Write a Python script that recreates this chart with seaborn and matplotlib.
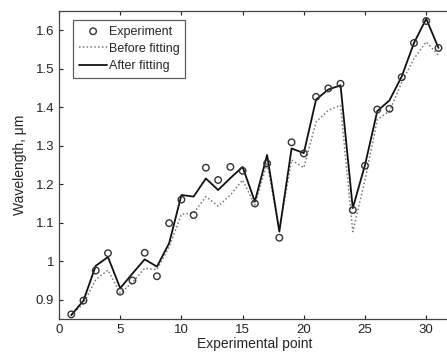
import matplotlib
matplotlib.use("Agg")
import matplotlib.pyplot as plt
import numpy as np
import pandas as pd
import seaborn as sns

points = list(range(1, 32))
experiment = [0.862, 0.898, 0.976, 1.021, 0.921, 0.950, 1.022, 0.961, 1.099, 1.160,
              1.120, 1.243, 1.211, 1.245, 1.235, 1.150, 1.254, 1.061, 1.309, 1.280,
              1.427, 1.449, 1.461, 1.133, 1.248, 1.394, 1.396, 1.478, 1.567, 1.624,
              1.554]
before_fit = [0.860, 0.890, 0.952, 0.977, 0.917, 0.945, 0.982, 0.978, 1.038, 1.122,
              1.125, 1.168, 1.143, 1.172, 1.211, 1.146, 1.256, 1.082, 1.263, 1.243,
              1.362, 1.392, 1.405, 1.077, 1.211, 1.368, 1.390, 1.465, 1.526, 1.570,
              1.535]
after_fit = [0.860, 0.898, 0.988, 1.011, 0.930, 0.968, 1.005, 0.986, 1.047, 1.172,
             1.168, 1.215, 1.185, 1.216, 1.245, 1.155, 1.276, 1.077, 1.293, 1.281,
             1.420, 1.446, 1.457, 1.138, 1.250, 1.390, 1.418, 1.480, 1.567, 1.630,
             1.554]

df = pd.DataFrame({"point": points, "exp": experiment,
                   "before": before_fit, "after": after_fit})

sns.set_style("ticks")
plt.rcParams['font.family'] = ['Liberation Sans', 'DejaVu Sans']

fig = plt.figure(figsize=(4.47, 3.52), dpi=100)
ax = fig.add_axes([59 / 447, 33 / 352, (450.7 - 59) / 447, (319 - 11) / 352])

sns.scatterplot(data=df, x="point", y="exp", ax=ax, marker="o", s=22,
                facecolor="none", edgecolor="#333333", linewidth=1.0,
                label="Experiment", zorder=3)
sns.lineplot(data=df, x="point", y="before", ax=ax, color="#777777",
             linestyle=(0, (1, 1.5)), linewidth=1.1, label="Before fitting")
sns.lineplot(data=df, x="point", y="after", ax=ax, color="#111111",
             linewidth=1.3, label="After fitting")

ax.set_xlim(0, 32)
ax.set_ylim(0.85, 1.65)
ax.set_xticks([0, 5, 10, 15, 20, 25, 30])
ax.set_yticks([0.9, 1.0, 1.1, 1.2, 1.3, 1.4, 1.5, 1.6])
ax.set_yticklabels(["0.9", "1", "1.1", "1.2", "1.3", "1.4", "1.5", "1.6"])
ax.tick_params(direction="in", top=True, right=True, length=3,
               labelsize=9.5, colors="#222222", width=0.8)
for s in ax.spines.values():
    s.set_color("#444444")
    s.set_linewidth(0.9)
ax.set_xlabel("Experimental point", fontsize=10, labelpad=1)
ax.set_ylabel("Wavelength, \u03bcm", fontsize=10, labelpad=6)

leg = ax.legend(loc="upper left", bbox_to_anchor=(0.036, 0.971),
                fontsize=9, frameon=True, fancybox=False,
                edgecolor="#333333", borderpad=0.45, labelspacing=0.42,
                handlelength=2.3, handletextpad=0.1, borderaxespad=0.0)
leg.get_frame().set_linewidth(0.9)

fig.savefig("out.png", dpi=100)
